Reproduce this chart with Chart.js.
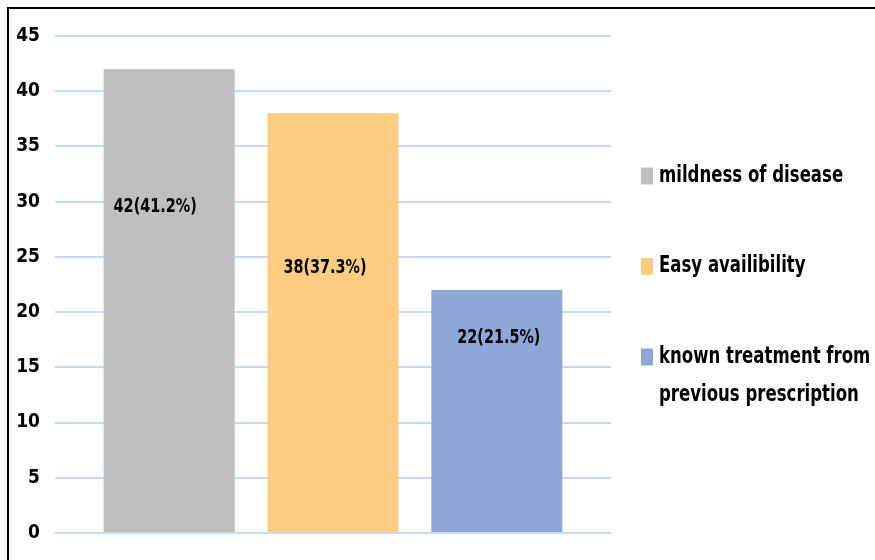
<!DOCTYPE html>
<html>
<head>
    <title>Reasons chart</title>
    <script src="https://cdn.jsdelivr.net/npm/chart.js"></script>
    <style>
        body {
            margin: 0;
            background: white;
        }
    </style>
</head>
<body>
    <canvas id="myChart" width="875" height="560"></canvas>
    <script>
        // values
        const seriesNames = ['mildness of disease', 'Easy availibility', 'known treatment from previous prescription'];
        const counts = [42, 38, 22];
        const valueLabels = ['42(41.2%)', '38(37.3%)', '22(21.5%)'];
        // where the text labels sit inside the bars (axis units, px nudge)
        const labelAt = [29.5, 24, 17.7];
        const labelNudge = [-14, -8, 2];
        const barColors = ['#bfbfbf', '#ffcd82', '#8fa7d8'];
        const yTicks = { min: 0, max: 45, step: 5 };

        const FONT = "'DejaVu Sans Condensed', 'DejaVu Sans', sans-serif";
        const SQUEEZE = 0.8; // the original font is narrow, squeeze text a bit

        const datasets = seriesNames.map((name, i) => ({
            label: name,
            data: [counts[i]],
            backgroundColor: barColors[i],
            borderWidth: 0,
            categoryPercentage: 0.884,
            barPercentage: 0.8
        }));

        function squeezedText(ctx, text, x, y) {
            ctx.save();
            ctx.translate(x, y);
            ctx.scale(SQUEEZE, 1);
            ctx.fillText(text, 0, 0);
            ctx.restore();
        }

        // black frame on top / left like the source image
        const frame = {
            id: 'frame',
            beforeDraw(chart) {
                const ctx = chart.ctx;
                ctx.save();
                ctx.fillStyle = '#000';
                ctx.fillRect(7, 7, chart.width - 7, 2);
                ctx.fillRect(7, 7, 2, chart.height - 7);
                ctx.restore();
            }
        };

        // text inside bars
        const barText = {
            id: 'barText',
            afterDatasetsDraw(chart) {
                const ctx = chart.ctx;
                const y = chart.scales.y;
                ctx.save();
                ctx.font = 'bold 20px ' + FONT;
                ctx.fillStyle = '#000';
                ctx.textAlign = 'center';
                ctx.textBaseline = 'middle';
                chart.data.datasets.forEach((ds, i) => {
                    const bar = chart.getDatasetMeta(i).data[0];
                    squeezedText(ctx, valueLabels[i], bar.x + labelNudge[i], y.getPixelForValue(labelAt[i]));
                });
                ctx.restore();
            }
        };

        // legend on the right, with wrapping
        const sideLegend = {
            id: 'sideLegend',
            afterDraw(chart) {
                const ctx = chart.ctx;
                const x0 = chart.chartArea.right + 30;
                const maxW = 215;
                ctx.save();
                ctx.font = 'bold 23px ' + FONT;
                ctx.textBaseline = 'middle';
                ctx.textAlign = 'left';
                chart.data.datasets.forEach((ds, i) => {
                    const yc = 176 + 90.5 * i;
                    ctx.fillStyle = ds.backgroundColor;
                    ctx.fillRect(x0, yc - 8.5, 12, 17);
                    const words = ds.label.split(' ');
                    const lines = [];
                    let line = '';
                    words.forEach(w => {
                        const test = line ? line + ' ' + w : w;
                        if (ctx.measureText(test).width * SQUEEZE > maxW && line) {
                            lines.push(line);
                            line = w;
                        } else {
                            line = test;
                        }
                    });
                    lines.push(line);
                    ctx.fillStyle = '#000';
                    lines.forEach((l, k) => squeezedText(ctx, l, x0 + 18, yc + k * 38));
                });
                ctx.restore();
            }
        };

        const ctx = document.getElementById('myChart').getContext('2d');
        new Chart(ctx, {
            type: 'bar',
            data: {
                labels: [''],
                datasets: datasets
            },
            options: {
                responsive: false,
                animation: false,
                layout: {
                    padding: { left: 0, right: 264, top: 36, bottom: 27 }
                },
                plugins: {
                    legend: { display: false },
                    tooltip: { enabled: false }
                },
                scales: {
                    x: {
                        display: false
                    },
                    y: {
                        min: yTicks.min,
                        max: yTicks.max,
                        afterFit(scale) { scale.width = 55; },
                        border: { display: false },
                        grid: {
                            color: '#c6daf5',
                            lineWidth: 2,
                            drawTicks: false
                        },
                        ticks: {
                            stepSize: yTicks.step,
                            padding: 15,
                            color: '#000',
                            font: { family: FONT, size: 19, weight: 'bold' }
                        }
                    }
                }
            },
            plugins: [frame, barText, sideLegend]
        });
    </script>
</body>
</html>
